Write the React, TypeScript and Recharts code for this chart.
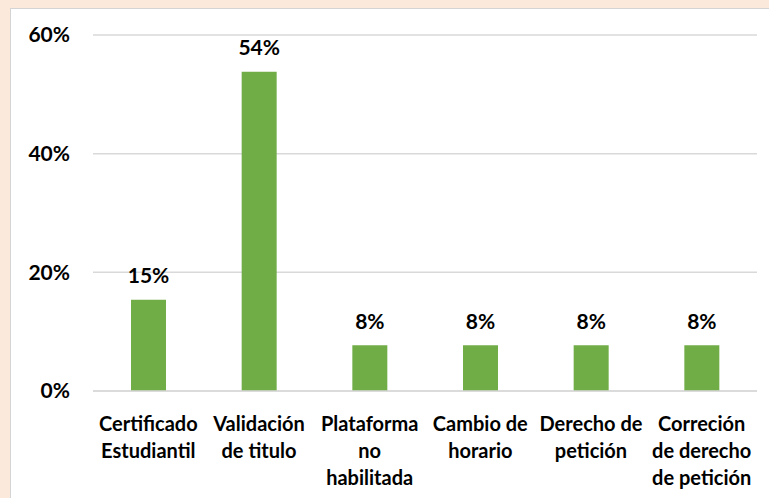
import React from 'react';
import { BarChart, Bar, XAxis, YAxis, CartesianGrid, LabelList } from 'recharts';

const categories = [
  'Certificado\nEstudiantil',
  'Validación\nde titulo',
  'Plataforma\nno\nhabilitada',
  'Cambio de\nhorario',
  'Derecho de\npetición',
  'Correción\nde derecho\nde petición',
];
const shares = [0.154, 0.538, 0.077, 0.077, 0.077, 0.077];
const yTicks = [0, 0.2, 0.4, 0.6];

const data = categories.map((name, i) => ({ name, value: shares[i] }));

const FONT = 'Lato, "Open Sans", sans-serif';
const pct = (v: number) => `${Math.round(v * 100)}%`;

const CategoryTick = (props: any) => {
  const { x, y, payload } = props;
  const lines = String(payload.value).split('\n');
  return (
    <text x={x} y={y} textAnchor="middle" fontFamily={FONT} fontWeight={700} fontSize={20} fill="#000">
      {lines.map((line, i) => (
        <tspan key={i} x={x} y={y + 30 + i * 27} dominantBaseline="central">
          {line}
        </tspan>
      ))}
    </text>
  );
};

const ValueLabel = (props: any) => {
  const { x, y, width, value } = props;
  return (
    <text
      x={x + width / 2}
      y={y - 25}
      textAnchor="middle"
      dominantBaseline="central"
      fontFamily={FONT}
      fontWeight={700}
      fontSize={21}
      fill="#000"
    >
      {pct(value)}
    </text>
  );
};

export default function App() {
  return (
    <div style={{ position: 'absolute', left: 0, top: 0, width: 769, height: 498, background: '#fbe9dc', overflow: 'hidden' }}>
      <div
        style={{
          position: 'absolute',
          left: 10,
          top: 8,
          width: 770,
          height: 500,
          background: '#fff',
          border: '1px solid #d4d4d4',
        }}
      />
      <div style={{ position: 'absolute', left: 0, top: 0 }}>
        <BarChart width={769} height={498} data={data} margin={{ top: 35, right: 12, left: 0, bottom: 0 }}>
          <CartesianGrid vertical={false} stroke="#d9d9d9" strokeWidth={1.5} />
          <XAxis
            dataKey="name"
            interval={0}
            height={107}
            tickLine={false}
            tickSize={0}
            axisLine={{ stroke: '#d9d9d9', strokeWidth: 1.5 }}
            tick={<CategoryTick />}
          />
          <YAxis
            width={93}
            domain={[0, 0.6]}
            ticks={yTicks}
            tickFormatter={pct}
            axisLine={false}
            tickLine={false}
            tickSize={0}
            tickMargin={23}
            tick={{ fontFamily: FONT, fontWeight: 700, fontSize: 21, fill: '#000' }}
          />
          <Bar dataKey="value" fill="#70ad47" barSize={35} isAnimationActive={false}>
            <LabelList dataKey="value" content={<ValueLabel />} />
          </Bar>
        </BarChart>
      </div>
    </div>
  );
}
